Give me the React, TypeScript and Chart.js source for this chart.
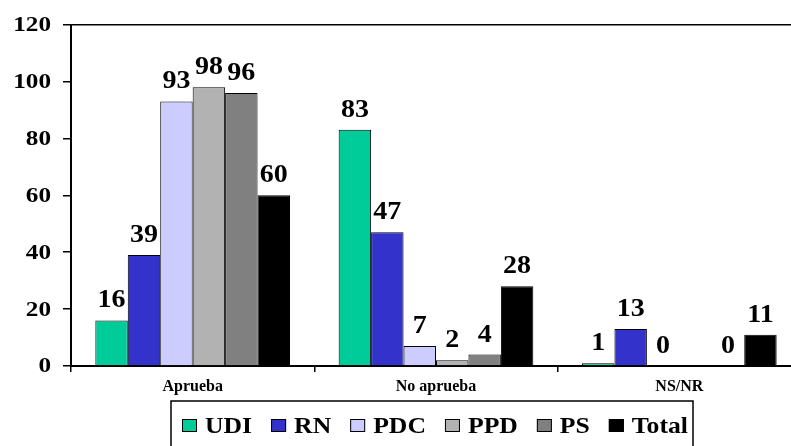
import React, { useEffect, useRef } from "react";
import { Chart, registerables } from "chart.js";

Chart.register(...registerables);

const categories = ["Aprueba", "No aprueba", "NS/NR"];
const seriesNames = ["UDI", "RN", "PDC", "PPD", "PS", "Total"];
const seriesColors = ["#00CC99", "#3333CC", "#CCCCFF", "#B2B2B2", "#808080", "#000000"];
const udi = [16, 83, 1];
const rn = [39, 47, 13];
const pdc = [93, 7, 0];
const ppd = [98, 2, null];
const ps = [96, 4, 0];
const total = [60, 28, 11];
const seriesValues = [udi, rn, pdc, ppd, ps, total];
const yTicks = { min: 0, max: 120, step: 20 };

const FONT = "'Liberation Serif', 'Times New Roman', serif";

function stretchText(ctx: any, text: string, x: number, y: number, sx: number) {
  ctx.save();
  ctx.translate(x, y);
  ctx.scale(sx, 1);
  ctx.fillText(text, 0, 0);
  ctx.restore();
}

const labelPlugin = {
  id: "valueLabels",
  afterDatasetsDraw(chart: any) {
    const ctx = chart.ctx;
    ctx.save();
    ctx.font = `bold 25px ${FONT}`;
    ctx.fillStyle = "#000";
    ctx.textAlign = "center";
    ctx.textBaseline = "alphabetic";
    chart.data.datasets.forEach((ds: any, di: number) => {
      const meta = chart.getDatasetMeta(di);
      meta.data.forEach((el: any, i: number) => {
        const v = ds.data[i];
        if (v === null || v === undefined) return;
        stretchText(ctx, String(v), el.x, el.y - 13, 1.12);
      });
    });
    // y-axis tick labels drawn through the y scale
    const ys = chart.scales.y;
    ctx.font = `bold 21px ${FONT}`;
    ctx.textAlign = "right";
    ctx.textBaseline = "middle";
    ys.ticks.forEach((t: any) => {
      const py = ys.getPixelForValue(t.value);
      stretchText(ctx, String(t.value), 51, py + 1, 1.2);
    });
    ctx.restore();
  },
};

const legendPlugin = {
  id: "boxLegend",
  afterDraw(chart: any) {
    const ctx = chart.ctx;
    ctx.save();
    const boxLeft = 171;
    const boxTop = 401;
    const boxRight = 693;
    ctx.lineWidth = 1.5;
    ctx.strokeStyle = "#000";
    ctx.strokeRect(boxLeft, boxTop, boxRight - boxLeft, 80);
    ctx.font = `bold 24px ${FONT}`;
    ctx.textBaseline = "middle";
    ctx.textAlign = "left";
    const cy = 426;
    const sx = 1.07;
    let x = 182;
    seriesNames.forEach((name, i) => {
      ctx.fillStyle = seriesColors[i];
      ctx.fillRect(x, cy - 7, 15, 13);
      ctx.lineWidth = 1;
      ctx.strokeStyle = "#000";
      ctx.strokeRect(x + 0.5, cy - 6.5, 14, 12);
      ctx.fillStyle = "#000";
      const tx = x + 23;
      stretchText(ctx, name, tx, cy + 1, sx);
      x = tx + ctx.measureText(name).width * sx + 19;
    });
    ctx.restore();
  },
};

export default function App() {
  const ref = useRef<HTMLCanvasElement | null>(null);
  useEffect(() => {
    document.body.style.margin = "0";
    document.body.style.overflow = "hidden";
    const canvas = ref.current;
    if (!canvas) return;
    const chart = new Chart(canvas, {
      type: "bar",
      data: {
        labels: categories,
        datasets: seriesNames.map((name, i) => ({
          label: name,
          data: seriesValues[i] as any,
          backgroundColor: seriesColors[i],
          borderColor: "#000",
          borderWidth: 1,
          barPercentage: 1,
          categoryPercentage: 0.8,
        })),
      },
      options: {
        animation: false,
        responsive: false,
        layout: { padding: { left: 0, top: 15, right: 9, bottom: 45 } },
        plugins: {
          legend: { display: false },
          tooltip: { enabled: false },
        },
        scales: {
          x: {
            afterFit: (s: any) => {
              s.height = 35;
            },
            grid: {
              offset: true,
              drawOnChartArea: false,
              drawTicks: true,
              tickLength: 6,
              color: "#000",
              lineWidth: 1.5,
            },
            border: { display: true, color: "#000", width: 2 },
            ticks: {
              color: "#000",
              font: { family: FONT, size: 16, weight: "bold" },
              padding: 5,
            },
          },
          y: {
            min: yTicks.min,
            max: yTicks.max,
            afterFit: (s: any) => {
              s.width = 71;
            },
            ticks: {
              stepSize: yTicks.step,
              color: "rgba(0,0,0,0)",
              font: { family: FONT, size: 21, weight: "bold" },
              padding: 12,
            },
            grid: {
              color: (c: any) => (c.tick && c.tick.value === 120 ? "#000" : "rgba(0,0,0,0)"),
              tickColor: "#000",
              tickLength: 8,
              lineWidth: 1.5,
            },
            border: { display: true, color: "#000", width: 2 },
          },
        },
      },
      plugins: [labelPlugin, legendPlugin],
    });
    return () => chart.destroy();
  }, []);
  return (
    <div style={{ width: 810, height: 446, overflow: "hidden" }}>
      <canvas ref={ref} width={810} height={446} style={{ display: "block" }} />
    </div>
  );
}
